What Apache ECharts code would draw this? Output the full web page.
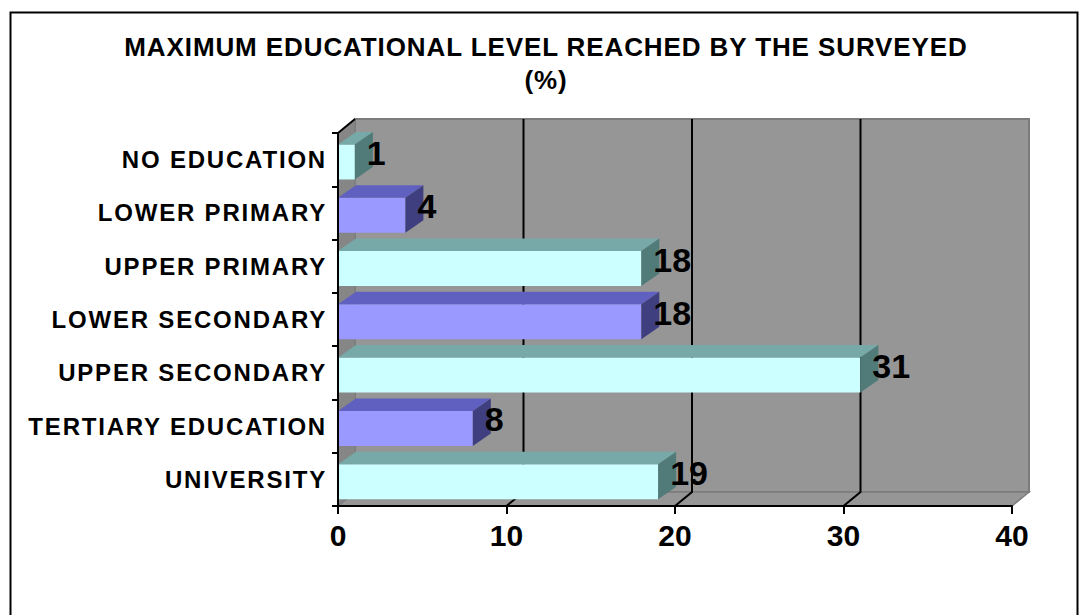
<!DOCTYPE html>
<html>
<head>
<meta charset="utf-8">
<title>Maximum educational level reached by the surveyed</title>
<script src="https://cdn.jsdelivr.net/npm/echarts@6/dist/echarts.min.js"></script>
<style>
  html, body { margin: 0; padding: 0; background: #ffffff; }
  #chart { width: 1080px; height: 615px; }
  /* wider tracking for the bold category and title text */
  #chart text[style*="24px"] { letter-spacing: 1.8px; }
  #chart text[style*="26px"] { letter-spacing: 0.9px; }
</style>
</head>
<body>
<div id="chart"></div>
<script>
// Education levels, top to bottom
const categories = [
  'NO EDUCATION',
  'LOWER PRIMARY',
  'UPPER PRIMARY',
  'LOWER SECONDARY',
  'UPPER SECONDARY',
  'TERTIARY EDUCATION',
  'UNIVERSITY'
];
// Share of respondents (%)
const shares = [1, 4, 18, 18, 31, 8, 19];
// Value axis range and step
const axisMin = 0;
const axisMax = 40;
const axisStep = 10;

const FONT = '"Liberation Sans", Arial, Helvetica, sans-serif';
// depth offset of the 3D box (walls and bars)
const WALL_DX = 17, WALL_DY = -14;
const BAR_DX = 18, BAR_DY = -12.5;

const palettes = [
  { front: '#ccffff', top: '#76a9a8', side: '#507b79' },
  { front: '#9999ff', top: '#6060c0', side: '#3f3f80' }
];

const chart = echarts.init(document.getElementById('chart'), null, { renderer: 'svg' });

function renderWalls(params, api) {
  const cs = params.coordSys;
  const xL = cs.x, xR = cs.x + cs.width, yT = cs.y, yB = cs.y + cs.height;
  const children = [
    // back wall
    { type: 'rect', shape: { x: xL + WALL_DX, y: yT + WALL_DY, width: cs.width, height: cs.height },
      style: { fill: '#969696', stroke: '#7c7c7c', lineWidth: 2 } },
    // left wall
    { type: 'polygon', shape: { points: [[xL, yT], [xL + WALL_DX, yT + WALL_DY], [xL + WALL_DX, yB + WALL_DY], [xL, yB]] },
      style: { fill: '#868686', stroke: '#7c7c7c', lineWidth: 1 } },
    // floor
    { type: 'polygon', shape: { points: [[xL, yB], [xL + WALL_DX, yB + WALL_DY], [xR + WALL_DX, yB + WALL_DY], [xR, yB]] },
      style: { fill: '#969696', stroke: '#7c7c7c', lineWidth: 1.5 } },
    // top edge of the left wall
    { type: 'line', shape: { x1: xL, y1: yT, x2: xL + WALL_DX, y2: yT + WALL_DY },
      style: { stroke: '#000', lineWidth: 2 } }
  ];
  // gridlines: diagonal across the floor, then up the back wall
  for (let v = axisMin + axisStep; v < axisMax; v += axisStep) {
    const x = api.coord([v, 0])[0];
    children.push({ type: 'polyline',
      shape: { points: [[x, yB], [x + WALL_DX, yB + WALL_DY], [x + WALL_DX, yT + WALL_DY]] },
      style: { stroke: '#000', lineWidth: 2, fill: null } });
  }
  return { type: 'group', children };
}

function renderBar(params, api) {
  const v = api.value(0);
  const i = api.value(1);
  const base = api.coord([axisMin, i]);
  const end = api.coord([v, i]);
  const band = api.size([0, 1])[1];
  const bandTop = base[1] - band / 2;
  const ft = bandTop + band * 0.215;
  const fb = bandTop + band * 0.872;
  const x0 = base[0], x1 = end[0];
  const pal = palettes[i % 2];
  return {
    type: 'group',
    children: [
      { type: 'polygon', shape: { points: [[x0, ft], [x1, ft], [x1, fb], [x0, fb]] },
        style: { fill: pal.front } },
      { type: 'polygon', shape: { points: [[x0, ft], [x0 + BAR_DX, ft + BAR_DY], [x1 + BAR_DX, ft + BAR_DY], [x1, ft]] },
        style: { fill: pal.top } },
      { type: 'polygon', shape: { points: [[x1, ft], [x1 + BAR_DX, ft + BAR_DY], [x1 + BAR_DX, fb + BAR_DY], [x1, fb]] },
        style: { fill: pal.side } },
      { type: 'text', x: x1 + 12, y: bandTop + band * 0.375,
        style: { text: String(v), fill: '#000', font: 'bold 34px ' + FONT,
                 textAlign: 'left', textVerticalAlign: 'middle', align: 'left', verticalAlign: 'middle' } }
    ]
  };
}

chart.setOption({
  backgroundColor: '#ffffff',
  animation: false,
  title: {
    text: 'MAXIMUM EDUCATIONAL LEVEL REACHED BY THE SURVEYED\n(%)',
    left: 541,
    top: 25,
    textAlign: 'center',
    textStyle: { fontFamily: FONT, fontWeight: 'bold', fontSize: 26, lineHeight: 33, color: '#000', align: 'center' }
  },
  graphic: [
    { type: 'rect', left: 8, top: 10, shape: { x: 0, y: 0, width: 1067, height: 700 },
      style: { fill: null, stroke: '#000', lineWidth: 2 }, z: 10 }
  ],
  grid: { left: 338, right: 68, top: 133, bottom: 109, containLabel: false },
  xAxis: {
    type: 'value',
    min: axisMin,
    max: axisMax,
    interval: axisStep,
    z: 3,
    axisLine: { show: true, lineStyle: { color: '#000', width: 2 } },
    axisTick: { show: true, length: 8, lineStyle: { color: '#000', width: 2 } },
    splitLine: { show: false },
    axisLabel: { color: '#000', fontFamily: FONT, fontWeight: 'bold', fontSize: 30, margin: 14 }
  },
  yAxis: {
    type: 'category',
    data: categories,
    inverse: true,
    z: 3,
    axisLine: { show: true, lineStyle: { color: '#000', width: 2 } },
    axisTick: { show: true, length: 6, lineStyle: { color: '#000', width: 2 } },
    splitLine: { show: false },
    axisLabel: { color: '#000', fontFamily: FONT, fontWeight: 'bold', fontSize: 24, margin: 11 }
  },
  series: [
    { type: 'custom', name: 'walls', z: 1, clip: false, silent: true,
      encode: { x: 0, y: 1 }, data: [[axisMin, 0]], renderItem: renderWalls },
    { type: 'custom', name: 'share', z: 2, clip: false,
      encode: { x: 0, y: 1 }, data: shares.map((v, i) => [v, i]), renderItem: renderBar }
  ]
});
</script>
</body>
</html>
